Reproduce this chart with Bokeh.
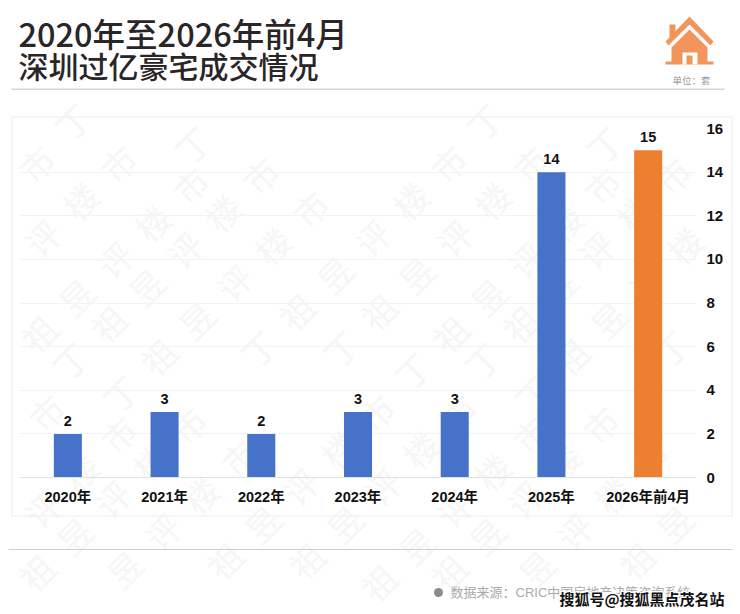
from bokeh.plotting import figure
from bokeh.layouts import column
from bokeh.models import ColumnDataSource, FixedTicker, Range1d
from bokeh.core.properties import value
from bokeh.embed import file_html
from bokeh.resources import INLINE

categories = ["2020年", "2021年", "2022年", "2023年", "2024年", "2025年", "2026年前4月"]
counts = [2, 3, 2, 3, 3, 14, 15]
bar_colors = ["#4672c9"] * 6 + ["#ed7f31"]
y_ticks = [0, 2, 4, 6, 8, 10, 12, 14, 16]
title_lines = ["2020年至2026年前4月", "深圳过亿豪宅成交情况"]
unit_text = "单位：套"
source_text = "数据来源：CRIC中国房地产决策咨询系统"
brand_text = "搜狐号@搜狐黑点茂名站"
mark_chars = ["丁", "祖", "昱", "评", "楼", "市"]
mark_starts = [(0, 370), (70, 360), (120, 393), (258, 348), (340, 348)]

FONT = "Liberation Sans, Noto Sans CJK SC"
CJK = "Noto Sans CJK SC"
CJK_MED = "Noto Sans CJK SC Medium, Noto Sans CJK SC"
W, H = 740, 614
FL, FB = 19, 477  # chart frame's left and bottom edge on the page

# ---- backdrop: a full-page figure for title, panel, rules, icon, footer, watermark
d = figure(width=W, height=H, x_range=Range1d(0, W), y_range=Range1d(H, 0), output_backend="svg",
           toolbar_location=None, x_axis_location=None, y_axis_location=None, min_border=0,
           outline_line_color=None, background_fill_color="white", border_fill_color="white")
d.grid.visible = False
d.frame_align = False


def txt(x, y, s, **kw):
    kw.setdefault("text_baseline", "middle")
    font = kw.pop("font", CJK)
    d.text(x=[x], y=[y], text=[s], text_font=value(font), **kw)


def poly(points, color):
    d.patch([a for a, _ in points], [b for _, b in points], fill_color=color, line_color=None)


# repeated faint watermark strings
wx, wy, wt = [], [], []
for i in range(-3, 5):
    for j in range(-3, 4):
        for sx, sy in mark_starts:
            for k, ch in enumerate(mark_chars):
                cx = sx + i * 412 - j * 72 + k * 38
                cy = sy + j * 249 - k * 37
                if 24 < cx < 704 and 112 < cy < 586:
                    wx.append(cx)
                    wy.append(cy)
                    wt.append(ch)
d.text(x=wx, y=wy, text=wt, angle=45, angle_units="deg", text_font=value(CJK), text_font_size="34px",
       text_color="#f6f6f6", text_align="center", text_baseline="middle")

# panel and rules
d.quad(left=[11.5], right=[731.5], top=[116.5], bottom=[515.5], fill_alpha=0, line_color="#ececec")
d.quad(left=[11], right=[724], top=[88], bottom=[89.5], fill_color="#d6d6d6", line_color=None)
d.quad(left=[8], right=[732], top=[548.5], bottom=[549.5], fill_color="#cfcfcf", line_color=None)

# title
txt(18, 32, title_lines[0], font=CJK_MED, text_font_size="32.5px", text_color="#2a2526")
txt(18, 64.5, title_lines[1], font=CJK_MED, text_font_size="30px", text_color="#2a2526")

# house icon
ORANGE = "#f2955a"
poly([(689, 16), (713, 41), (710, 45), (689, 24), (668, 45), (665, 41)], ORANGE)
poly([(669, 24), (675, 24), (675, 33), (669, 39)], ORANGE)
poly([(689, 29), (707, 47), (707, 61), (713, 61), (713, 64), (665, 64), (665, 61), (671, 61), (671, 47)], ORANGE)
poly([(682, 52), (697, 52), (697, 64), (692, 64), (692, 55), (686, 55), (686, 64), (682, 64)], "white")
txt(672, 79, unit_text, text_font_size="9.5px", text_color="#9a9a9a")

# source line
d.scatter(x=[438], y=[592], size=9, marker="circle", fill_color="#8c8c8c", line_color=None)
txt(450, 592, source_text, font=FONT, text_font_size="13px", text_color="#ababab")

# brand stamp with white halo
for dx, dy in [(-1, 0), (1, 0), (0, -1), (0, 1), (-1, -1), (1, 1), (-1, 1), (1, -1)]:
    txt(559 + dx, 598 + dy, brand_text, text_font_size="15px", text_font_style="bold", text_color="white")
txt(559, 598, brand_text, text_font_size="15px", text_font_style="bold", text_color="#111111")

# ---- chart, laid transparently over the backdrop
p = figure(width=W, height=H, x_range=categories, y_range=Range1d(0, 16),
           output_backend="svg", toolbar_location=None, y_axis_location="right",
           min_border_left=FL, min_border_right=44, min_border_top=128, min_border_bottom=H - FB,
           outline_line_color=None, background_fill_alpha=0, border_fill_alpha=0)
p.frame_align = False
p.margin = (-H, 0, 0, 0)
p.x_range.range_padding = 0
p.x_range.factor_padding = 0
p.x_range.group_padding = 0

src = ColumnDataSource(dict(cat=categories, val=counts, col=bar_colors))
p.vbar(x="cat", top="val", width=0.29, bottom=0, source=src, fill_color="col", line_color=None)
p.text(x="cat", y="val", text="val", source=src, text_align="center", text_baseline="bottom", y_offset=-8,
       text_font=value(FONT), text_font_size="14.5px", text_font_style="bold", text_color="#111111")

ax = p.yaxis[0]
ax.ticker = FixedTicker(ticks=y_ticks)
ax.axis_line_color = None
ax.major_tick_line_color = None
ax.minor_tick_line_color = None
ax.major_label_text_font = FONT
ax.major_label_text_font_size = "15px"
ax.major_label_text_font_style = "bold"
ax.major_label_text_color = "#111111"
ax.major_label_standoff = 4

xa = p.xaxis[0]
xa.axis_line_color = "#e2e2e2"
xa.major_tick_line_color = None
xa.major_label_text_font = FONT
xa.major_label_text_font_size = "14.5px"
xa.major_label_text_font_style = "bold"
xa.major_label_text_color = "#111111"
xa.major_label_standoff = 5

p.xgrid.grid_line_color = None
p.ygrid.grid_line_color = "#f3f3f3"
p.ygrid.ticker = FixedTicker(ticks=y_ticks)

open("out.html", "w").write(file_html(column(d, p), INLINE))
